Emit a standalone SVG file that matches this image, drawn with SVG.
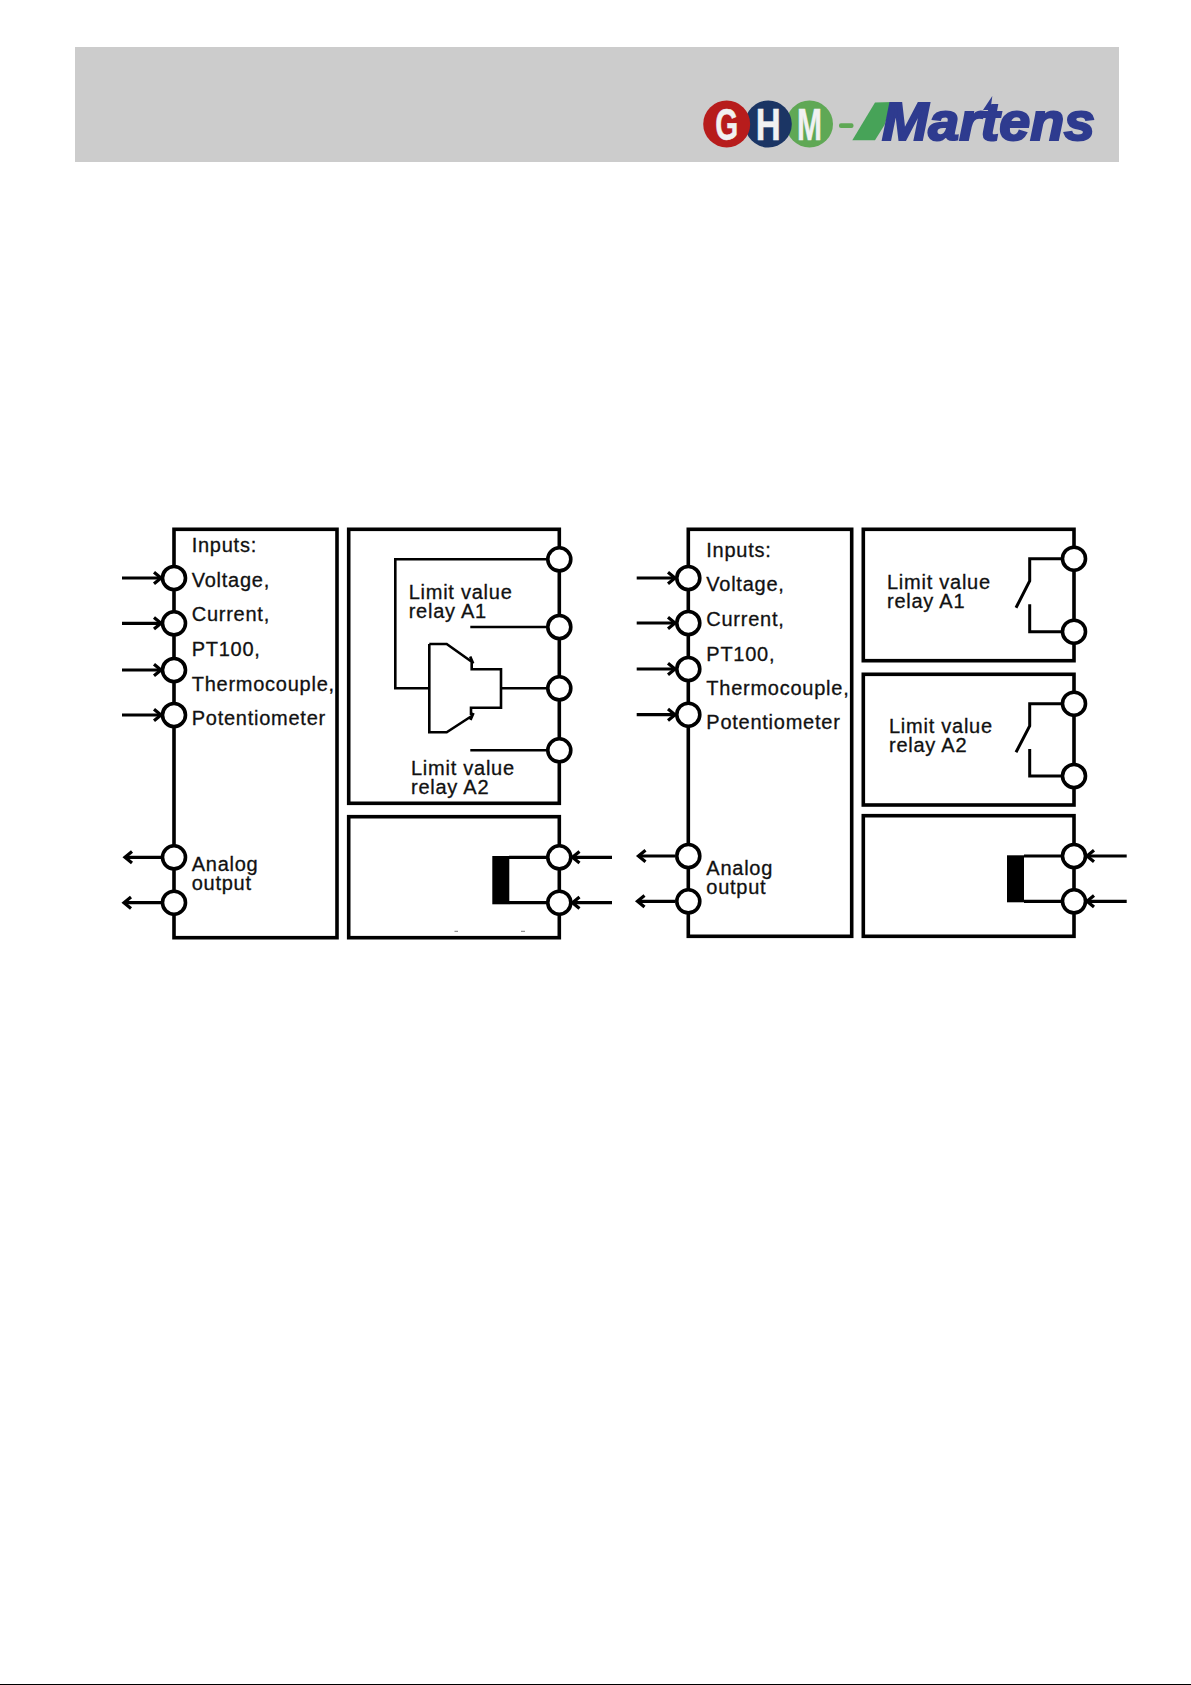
<svg xmlns="http://www.w3.org/2000/svg" width="1191" height="1685" viewBox="0 0 1191 1685">
<style>
.box{fill:none;stroke:#000;stroke-width:3.6}
.t{fill:#fff;stroke:#000;stroke-width:3.6}
.l{font-family:"Liberation Sans",Arial,sans-serif;font-size:20px;letter-spacing:.75px;fill:#111;stroke:#111;stroke-width:.3}
.w{fill:none;stroke:#000;stroke-width:2.6}
.w2{fill:none;stroke:#000;stroke-width:3}
.a{fill:none;stroke:#000;stroke-width:3.2}
.ai{marker-end:url(#h)}
.lg{font-family:"Liberation Sans",Arial,sans-serif;font-weight:700;font-size:44px;fill:#f1f1f1;stroke:#f1f1f1;stroke-width:.5;text-anchor:middle}
</style>
<defs>
<marker id="h" markerUnits="userSpaceOnUse" markerWidth="14" markerHeight="16" refX="10" refY="8" orient="auto"><path d="M3,2.3L10,8L3,13.7" fill="none" stroke="#000" stroke-width="3.2"/></marker>
</defs>
<rect width="1191" height="1685" fill="#fff"/>
<g id="header">
<rect x="75" y="47" width="1044" height="115" fill="#ccc"/>
<g id="logo">
<circle cx="809.5" cy="124" r="23.5" fill="#5fa855"/>
<circle cx="768.3" cy="124" r="23.5" fill="#1b3564"/>
<circle cx="726.7" cy="124" r="23.5" fill="#b71c1c"/>
<text class="lg" x="726.7" y="140" textLength="23" lengthAdjust="spacingAndGlyphs">G</text>
<text class="lg" x="768.3" y="140" textLength="25" lengthAdjust="spacingAndGlyphs">H</text>
<text class="lg" x="809.5" y="140" textLength="25" lengthAdjust="spacingAndGlyphs">M</text>
<rect x="839" y="123.3" width="14.5" height="4.7" rx="2" fill="#5fa855"/>
<polygon points="852.3,140.3 875,102.5 892.5,102 884.5,125 875,140.3" fill="#47a358"/>
<polygon points="983,110 992.3,96 990.5,110" fill="#2e3b8f"/>
<text x="882" y="139.5" font-family="Liberation Sans,Arial,sans-serif" font-weight="700" font-style="italic" font-size="53" fill="#2e3b8f" stroke="#2e3b8f" stroke-width="2.2" textLength="213" lengthAdjust="spacingAndGlyphs">Martens</text>
</g>
</g>
<g id="diagram-a-input">
<rect class="box" x="174" y="529.3" width="163" height="408.4"/>
<text class="l" x="191.7" y="551.7">Inputs:</text>
<text class="l" x="191.7" y="586.7">Voltage,</text>
<text class="l" x="191.7" y="621">Current,</text>
<text class="l" x="191.7" y="655.7">PT100,</text>
<text class="l" x="191.7" y="690.7">Thermocouple,</text>
<text class="l" x="191.7" y="725.3">Potentiometer</text>
<text class="l"><tspan x="191.7" y="870.7">Analog</tspan><tspan x="191.7" y="890">output</tspan></text>
</g>
<g id="diagram-a-relay">
<rect class="box" x="348.7" y="529.3" width="210.6" height="274"/>
<text class="l"><tspan x="408.7" y="599.2">Limit value</tspan><tspan x="408.7" y="618.2">relay A1</tspan></text>
<text class="l"><tspan x="411" y="774.5">Limit value</tspan><tspan x="411" y="793.5">relay A2</tspan></text>
<path class="w" d="M429.3,644H446.7L471.7,661.7M470.2,656.5L473.2,663.5M471.7,661.7V669.3H501V707.7H471V715M473.5,713L470.5,720M471.7,716L446.7,732.3H429.3V644"/>
</g>
<g id="diagram-a-supply">
<rect class="box" x="348.7" y="816.7" width="210.6" height="121"/>
<rect x="492.3" y="856" width="17" height="48.3" fill="#000"/>
<path d="M454.5,931.3h3.5M521,931.3h4" stroke="#777" stroke-width="1" fill="none"/>
</g>
<g id="diagram-b-input">
<rect class="box" x="688.3" y="529.3" width="163.4" height="407"/>
<text class="l" x="706.3" y="556.7">Inputs:</text>
<text class="l" x="706.3" y="591">Voltage,</text>
<text class="l" x="706.3" y="626">Current,</text>
<text class="l" x="706.3" y="660.7">PT100,</text>
<text class="l" x="706.3" y="695.3">Thermocouple,</text>
<text class="l" x="706.3" y="729.3">Potentiometer</text>
<text class="l"><tspan x="706.3" y="875">Analog</tspan><tspan x="706.3" y="894">output</tspan></text>
</g>
<g id="diagram-b-relay-a1">
<rect class="box" x="863.3" y="529.3" width="210.7" height="131.4"/>
<text class="l"><tspan x="887" y="589.2">Limit value</tspan><tspan x="887" y="608.2">relay A1</tspan></text>
</g>
<g id="diagram-b-relay-a2">
<rect class="box" x="863.3" y="674.3" width="210.7" height="130.7"/>
<text class="l"><tspan x="889" y="732.9">Limit value</tspan><tspan x="889" y="751.9">relay A2</tspan></text>
</g>
<g id="diagram-b-supply">
<rect class="box" x="863.3" y="815.7" width="210.7" height="120.6"/>
<rect x="1007" y="855.3" width="17" height="47" fill="#000"/>
</g>
<g id="connectors">
<path class="w" d="M547,559.3H395.3V688.3H429.3M470.3,627H547M501,688.3H547M470.3,750.3H547"/>
<path class="a" d="M509,857.3H547M509,902.7H547M1024,856H1062M1024,901.3H1062"/>
<path class="w2" d="M1062,558.7H1029.7V581L1016,607.7M1029.7,604.3V631.7H1062M1062,703.7H1029.7V726L1016,752.3M1029.7,749V776H1062"/>
<g class="a">
<path class="ai" d="M122,578H161"/><path class="ai" d="M122,623.3H161"/><path class="ai" d="M122,670H161"/><path class="ai" d="M122,715H161"/>
<path class="ai" d="M161,857.3H125"/><path class="ai" d="M161,902.7H124"/>
<path class="ai" d="M612,857.3H572.5"/><path class="ai" d="M612,902.7H572.5"/>
<path class="ai" d="M636.7,578H675"/><path class="ai" d="M636.7,623H675"/><path class="ai" d="M636.7,669H675"/><path class="ai" d="M636.7,714.7H675"/>
<path class="ai" d="M675,856H638.5"/><path class="ai" d="M675,901.3H637.5"/>
<path class="ai" d="M1126.7,856H1087"/><path class="ai" d="M1126.7,901.3H1087"/>
</g>
</g>
<g id="terminals-a">
<circle class="t" cx="174" cy="578" r="11.5"/><circle class="t" cx="174" cy="623.3" r="11.5"/><circle class="t" cx="174" cy="670" r="11.5"/><circle class="t" cx="174" cy="715" r="11.5"/><circle class="t" cx="174" cy="857.3" r="11.5"/><circle class="t" cx="174" cy="902.7" r="11.5"/>
<circle class="t" cx="559.3" cy="559.3" r="11.5"/><circle class="t" cx="559.3" cy="627" r="11.5"/><circle class="t" cx="559.3" cy="688.3" r="11.5"/><circle class="t" cx="559.3" cy="750.3" r="11.5"/><circle class="t" cx="559.3" cy="857.3" r="11.5"/><circle class="t" cx="559.3" cy="902.7" r="11.5"/>
</g>
<g id="terminals-b">
<circle class="t" cx="688.3" cy="578" r="11.5"/><circle class="t" cx="688.3" cy="623" r="11.5"/><circle class="t" cx="688.3" cy="669" r="11.5"/><circle class="t" cx="688.3" cy="714.7" r="11.5"/><circle class="t" cx="688.3" cy="856" r="11.5"/><circle class="t" cx="688.3" cy="901.3" r="11.5"/>
<circle class="t" cx="1074" cy="558.7" r="11.5"/><circle class="t" cx="1074" cy="631.7" r="11.5"/><circle class="t" cx="1074" cy="703.7" r="11.5"/><circle class="t" cx="1074" cy="776" r="11.5"/><circle class="t" cx="1074" cy="856" r="11.5"/><circle class="t" cx="1074" cy="901.3" r="11.5"/>
</g>
<rect id="page-edge" x="0" y="1684" width="1191" height="1" fill="#000"/>
</svg>
